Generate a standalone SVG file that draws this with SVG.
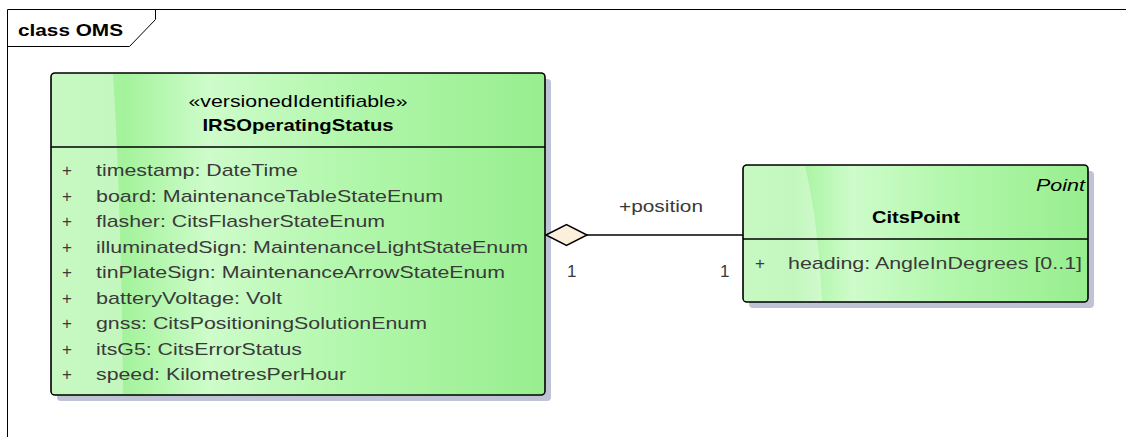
<svg xmlns="http://www.w3.org/2000/svg" width="1126" height="437" viewBox="0 0 1126 437">
  <style>
    .txt { font-family: "Liberation Sans", Arial, sans-serif; font-size: 17px; fill: #3a3a3a; }
    .bold { font-family: "Liberation Sans", Arial, sans-serif; font-size: 17px; font-weight: bold; fill: #000; }
    .ital { font-family: "Liberation Sans", Arial, sans-serif; font-size: 17px; font-style: italic; fill: #000; }
    .box { fill: url(#classFill); stroke: #000; stroke-width: 1.6; }
    .shadow { fill: #bfc3d6; }
    .gloss { fill: #ffffff; opacity: 0.35; }
    .sep { stroke: #000; stroke-width: 1.6; }
    .frame { fill: none; stroke: #000; stroke-width: 1; }
    .conn { fill: none; stroke: #000; stroke-width: 1.5; }
  </style>
  <defs>
    <linearGradient id="classFill" x1="0" y1="0" x2="1" y2="0">
      <stop offset="0" stop-color="#aaf5a2"/>
      <stop offset="0.15" stop-color="#a4f39c"/>
      <stop offset="0.32" stop-color="#cefcca"/>
      <stop offset="0.6" stop-color="#b2f7ac"/>
      <stop offset="1" stop-color="#97ee8e"/>
    </linearGradient>
  </defs>

  <!-- diagram frame with name tab -->
  <g id="frame">
    <path class="frame" d="M7.5 437 V9.5 H1126"/>
    <path class="frame" d="M7.5 46.5 H129.5 L155.5 19.5 V9.5"/>
    <text class="bold" x="18" y="36" textLength="105" lengthAdjust="spacingAndGlyphs">class OMS</text>
  </g>

  <!-- IRSOperatingStatus class -->
  <g id="IRSOperatingStatus">
    <rect class="shadow" x="57" y="79" width="494" height="322" rx="4"/>
    <rect class="box" x="51" y="73" width="494" height="322" rx="4"/>
    <path class="gloss" d="M52 77 Q52 74 55 74 H113 Q121 200 123 394 H52 Z"/>
    <line class="sep" x1="51" y1="147" x2="545" y2="147"/>
    <text class="txt" x="298" y="107" text-anchor="middle" textLength="219" lengthAdjust="spacingAndGlyphs" style="fill:#000">«versionedIdentifiable»</text>
    <text class="bold" x="298" y="131" text-anchor="middle" textLength="191" lengthAdjust="spacingAndGlyphs">IRSOperatingStatus</text>
    <g class="txt">
      <text x="62" y="176">+</text>
      <text x="96" y="176" textLength="202" lengthAdjust="spacingAndGlyphs">timestamp: DateTime</text>
      <text x="62" y="201.5">+</text>
      <text x="96" y="201.5" textLength="347" lengthAdjust="spacingAndGlyphs">board: MaintenanceTableStateEnum</text>
      <text x="62" y="227">+</text>
      <text x="96" y="227" textLength="289" lengthAdjust="spacingAndGlyphs">flasher: CitsFlasherStateEnum</text>
      <text x="62" y="252.5">+</text>
      <text x="96" y="252.5" textLength="432" lengthAdjust="spacingAndGlyphs">illuminatedSign: MaintenanceLightStateEnum</text>
      <text x="62" y="278">+</text>
      <text x="96" y="278" textLength="409" lengthAdjust="spacingAndGlyphs">tinPlateSign: MaintenanceArrowStateEnum</text>
      <text x="62" y="303.5">+</text>
      <text x="96" y="303.5" textLength="186" lengthAdjust="spacingAndGlyphs">batteryVoltage: Volt</text>
      <text x="62" y="329">+</text>
      <text x="96" y="329" textLength="331" lengthAdjust="spacingAndGlyphs">gnss: CitsPositioningSolutionEnum</text>
      <text x="62" y="354.5">+</text>
      <text x="96" y="354.5" textLength="206" lengthAdjust="spacingAndGlyphs">itsG5: CitsErrorStatus</text>
      <text x="62" y="380">+</text>
      <text x="96" y="380" textLength="250" lengthAdjust="spacingAndGlyphs">speed: KilometresPerHour</text>
    </g>
  </g>

  <!-- CitsPoint class -->
  <g id="CitsPoint">
    <rect class="shadow" x="749" y="171" width="345" height="137" rx="4"/>
    <rect class="box" x="743" y="165" width="345" height="137" rx="4"/>
    <path class="gloss" d="M744 169 Q744 166 747 166 H805 Q818 220 822 301 H744 Z"/>
    <line class="sep" x1="743" y1="239" x2="1088" y2="239"/>
    <text class="ital" x="1085" y="191" text-anchor="end" textLength="49" lengthAdjust="spacingAndGlyphs">Point</text>
    <text class="bold" x="916" y="223" text-anchor="middle" textLength="88" lengthAdjust="spacingAndGlyphs">CitsPoint</text>
    <text class="txt" x="755" y="269">+</text>
    <text class="txt" x="788" y="269" textLength="294" lengthAdjust="spacingAndGlyphs">heading: AngleInDegrees [0..1]</text>
  </g>

  <!-- aggregation: IRSOperatingStatus 1 <>—— 1 CitsPoint -->
  <g id="connectors">
    <line class="conn" x1="587" y1="235" x2="743" y2="235"/>
    <polygon points="546,235 566.5,224.5 587,235 566.5,245.5" fill="#fcf0dc" stroke="#000" stroke-width="1.5"/>
    <text class="txt" x="619" y="212" textLength="84" lengthAdjust="spacingAndGlyphs">+position</text>
    <text class="txt" x="567" y="277">1</text>
    <text class="txt" x="720" y="277">1</text>
  </g>
</svg>
